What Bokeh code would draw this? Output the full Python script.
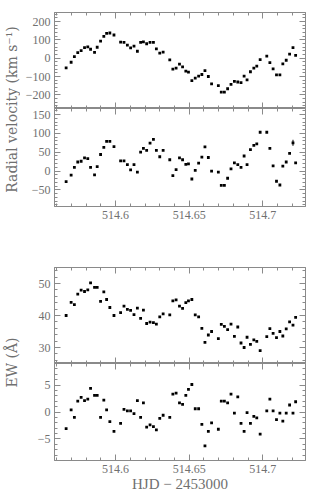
from math import pi
from bokeh.plotting import figure
from bokeh.models import LinearAxis, FixedTicker, Label, Range1d, PrintfTickFormatter
from bokeh.layouts import column, row
from bokeh.embed import file_html
from bokeh.resources import INLINE

# ---------------- data ----------------
hjd = [514.5664, 514.5698, 514.5720, 514.5743, 514.5766, 514.5789, 514.5811, 514.5830, 514.5857, 514.5875,
       514.5898, 514.5920, 514.5939, 514.5961, 514.5989, 514.6034, 514.6057, 514.6080, 514.6102, 514.6125,
       514.6148, 514.6170, 514.6189, 514.6211, 514.6234, 514.6257, 514.6277, 514.6300, 514.6323, 514.6368,
       514.6389, 514.6411, 514.6434, 514.6455, 514.6477, 514.6495, 514.6518, 514.6541, 514.6564, 514.6586,
       514.6607, 514.6630, 514.6652, 514.6698, 514.6718, 514.6739, 514.6761, 514.6784, 514.6807, 514.6830,
       514.6852, 514.6873, 514.6893, 514.6916, 514.6939, 514.6959, 514.6982, 514.7027, 514.7048, 514.7070,
       514.7093, 514.7116, 514.7136, 514.7159, 514.7182, 514.7205, 514.7223]

rv = [-53, -22, 9, 31, 42, 58, 62, 49, 32, 60, 94, 119, 136, 138, 127,
      88, 87, 72, 56, 66, 38, 87, 89, 79, 87, 87, 51, 28, 33,
      -9, -60, -54, -32, -47, -71, -76, -123, -109, -98, -89, -68, -100, -140,
      -150, -185, -185, -167, -143, -127, -130, -134, -98, -118, -74, -54, -43, -8,
      11, -24, -58, -91, -91, -31, -11, 22, 58, 16]

rv_res = [-28, -11, 10, 24, 26, 35, 33, 10, -10, 12, 44, 63, 79, 79, 65,
          27, 27, 17, 3, 17, -3, 50, 60, 55, 74, 84, 55, 38, 55,
          30, -12, 4, 35, 30, 18, 19, -21, 2, 21, 37, 64, 36, 0,
          -3, -38, -38, -19, 6, 22, 17, 10, 40, 17, 57, 68, 72, 103,
          103, 60, 14, -27, -37, 13, 24, 47, 75, 22]

rv_res_err = [0, 0, 0, 0, 0, 0, 0, 0, 0, 0, 0, 0, 0, 0, 0,
              0, 0, 0, 0, 0, 0, 0, 0, 0, 0, 0, 0, 0, 0,
              0, 0, 0, 0, 0, 0, 0, 0, 0, 0, 0, 0, 0, 0,
              0, 0, 0, 0, 0, 0, 0, 0, 0, 0, 0, 0, 0, 0,
              0, 0, 0, 0, 0, 0, 0, 0, 8, 0]

ew = [40.0, 44.1, 43.4, 46.7, 47.9, 47.5, 48.0, 50.2, 48.8, 48.8, 44.4, 47.4, 45.0, 42.5, 40.0,
      40.9, 42.9, 41.9, 41.6, 40.3, 42.3, 39.1, 41.7, 37.5, 37.9, 37.8, 37.3, 39.6, 40.5,
      40.2, 44.6, 44.9, 42.9, 42.2, 44.0, 44.6, 45.0, 40.2, 39.6, 36.0, 31.6, 33.9, 35.0,
      32.8, 37.2, 36.6, 35.6, 37.3, 33.5, 36.4, 31.4, 30.0, 33.2, 31.0, 32.4, 31.9, 29.0,
      33.4, 35.9, 34.4, 33.1, 35.0, 33.6, 35.8, 38.0, 37.0, 39.4]

ew_res = [-3.1, 0.4, -1.0, 2.0, 2.7, 2.1, 2.4, 4.4, 3.1, 3.1, -1.0, 2.2, 0.4, -1.8, -3.6,
          -2.1, 0.5, 0.2, 0.2, -0.3, 2.1, -1.0, 1.7, -2.8, -2.4, -2.7, -3.3, -1.2, -0.6,
          -1.0, 3.3, 3.5, 1.7, 1.4, 3.1, 4.2, 5.1, 0.6, 0.6, -2.3, -6.3, -3.6, -2.0,
          -3.2, 2.0, 2.0, 1.7, 3.3, -0.2, 2.8, -2.1, -3.6, -0.1, -2.1, -0.8, -1.1, -4.1,
          0.2, 2.4, 0.2, -1.4, -0.2, -1.7, -0.2, 1.3, -0.2, 1.9]

x_major = [514.6, 514.65, 514.7]
x_minor = [514.56, 514.57, 514.58, 514.59, 514.60, 514.61, 514.62, 514.63, 514.64,
           514.65, 514.66, 514.67, 514.68, 514.69, 514.70, 514.71, 514.72]
rv_major = [-200, -100, 0, 100, 200]
rv_minor = list(range(-260, 260, 20))
res_major = [-50, 0, 50, 100, 150]
res_minor = list(range(-90, 170, 10))
ew_major = [30, 40, 50]
ew_minor = list(range(26, 56, 2))
ewr_major = [-5, 0, 5]
ewr_minor = list(range(-8, 10, 1))

x_label = "HJD \u2212 2453000"
rv_label = "Radial velocity (km s\u207b\u00b9)"
ew_label = "EW (\u00c5)"

# ---------------- style ----------------
XLIM = (514.5585, 514.729)
AX = "#8a8a8a"
TC = "#707070"
FONT = "Liberation Serif"
TFONT = "DejaVu Serif"
LW = 20          # width of the y-title strip
PW = 290         # width of each panel figure
ML, MR = 34, 5


def style_axis(ax, labels):
    ax.axis_line_color = AX
    ax.major_tick_line_color = AX
    ax.minor_tick_line_color = AX
    ax.major_tick_in = 6
    ax.major_tick_out = 0
    ax.minor_tick_in = 3
    ax.minor_tick_out = 0
    ax.major_label_text_font = FONT
    if labels:
        ax.major_label_text_color = TC
        ax.major_label_text_font_size = "12px"
        ax.major_label_standoff = 4
    else:
        ax.major_label_text_color = None
        ax.major_label_text_alpha = 0
        ax.major_label_text_font_size = "1px"
        ax.major_label_standoff = 0


def panel(h, ylim, ymaj, ymin, xlabels, top, bottom, xtitle=None):
    p = figure(width=PW, height=h, x_range=Range1d(*XLIM), y_range=Range1d(*ylim),
               output_backend="svg", toolbar_location=None,
               x_axis_location=None, y_axis_location=None,
               min_border_left=ML, min_border_right=MR,
               min_border_top=top, min_border_bottom=bottom)
    p.grid.visible = False
    p.outline_line_color = AX
    p.background_fill_color = "white"
    p.border_fill_color = "white"
    for loc in ("left", "right"):
        ax = LinearAxis(ticker=FixedTicker(ticks=ymaj, minor_ticks=ymin))
        style_axis(ax, loc == "left")
        p.add_layout(ax, loc)
    for loc in ("below", "above"):
        ax = LinearAxis(ticker=FixedTicker(ticks=x_major, minor_ticks=x_minor),
                        formatter=PrintfTickFormatter(format="%g"))
        style_axis(ax, loc == "below" and xlabels)
        if loc == "below" and xtitle:
            ax.axis_label = xtitle
            ax.axis_label_text_font = FONT
            ax.axis_label_text_font_size = "15px"
            ax.axis_label_text_font_style = "normal"
            ax.axis_label_text_color = TC
            ax.axis_label_standoff = 0
        p.add_layout(ax, loc)
    return p


def title_strip(h, text, yc):
    f = figure(width=LW, height=h, x_range=(0, 1), y_range=(0, 1), min_border=0,
               output_backend="svg", toolbar_location=None,
               x_axis_location=None, y_axis_location=None)
    f.grid.visible = False
    f.outline_line_color = None
    f.add_layout(Label(x=11, y=yc, x_units="screen", y_units="screen", text=text,
                       angle=pi / 2, text_align="center", text_baseline="middle",
                       text_font=TFONT, text_font_size="14px", text_color=TC))
    return f


MS = 2.8
p1 = panel(108, (-275, 250), rv_major, rv_minor, False, 12, 0)
p1.scatter(hjd, rv, marker="square", size=MS, fill_color="black", line_color=None)

p2 = panel(123, (-94, 166), res_major, res_minor, True, 0, 25)
lo = [v - e for v, e in zip(rv_res, rv_res_err)]
hi = [v + e for v, e in zip(rv_res, rv_res_err)]
p2.segment(hjd, lo, hjd, hi, line_color="black", line_width=1)
p2.scatter(hjd, rv_res, marker="square", size=MS, fill_color="black", line_color=None)

p3 = panel(132, (25, 55), ew_major, ew_minor, False, 36, 0)
p3.scatter(hjd, ew, marker="square", size=MS, fill_color="black", line_color=None)

p4 = panel(131, (-9, 9), ewr_major, ewr_minor, True, 0, 34, xtitle=x_label)
p4.scatter(hjd, ew_res, marker="square", size=MS, fill_color="black", line_color=None)

lab1 = title_strip(231, rv_label, 122)
lab2 = title_strip(263, ew_label, 132)

layout = column(row(lab1, column(p1, p2)), row(lab2, column(p3, p4)))

open("out.html", "w").write(file_html(layout, INLINE))
